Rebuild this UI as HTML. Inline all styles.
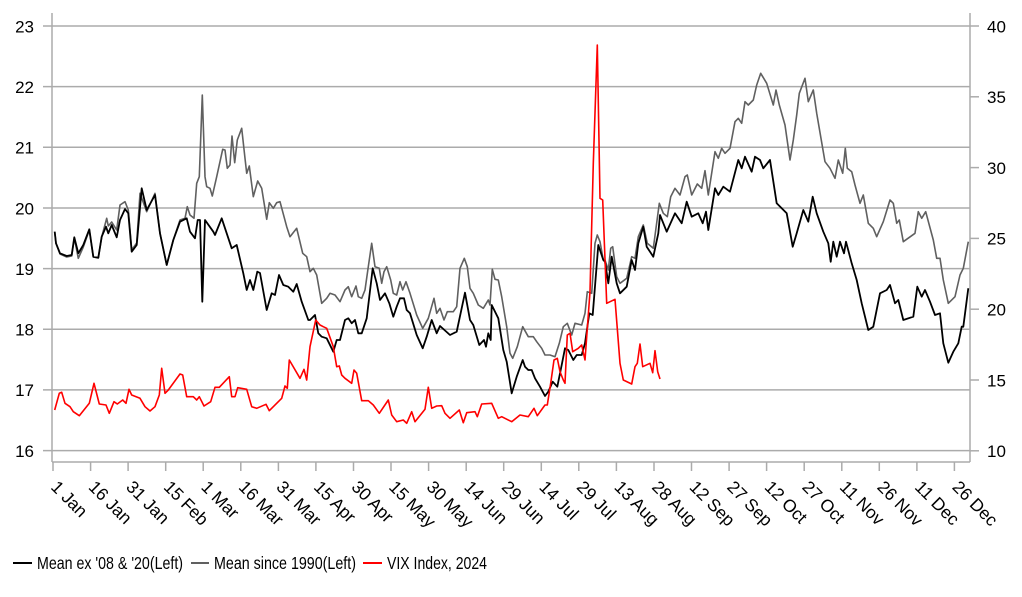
<!DOCTYPE html>
<html><head><meta charset="utf-8"><style>
html,body{margin:0;padding:0;background:#fff;}
svg{display:block;}
text{font-family:"Liberation Sans",Arial,sans-serif;fill:#000;}
</style></head><body>
<svg width="1022" height="597" viewBox="0 0 1022 597" xmlns="http://www.w3.org/2000/svg">
<g stroke="#ababab" stroke-width="1.5" fill="none">
<line x1="43" y1="26" x2="970" y2="26"/>
<line x1="43" y1="86.6" x2="970" y2="86.6"/>
<line x1="43" y1="147.3" x2="970" y2="147.3"/>
<line x1="43" y1="208" x2="970" y2="208"/>
<line x1="43" y1="268.6" x2="970" y2="268.6"/>
<line x1="43" y1="329.3" x2="970" y2="329.3"/>
<line x1="43" y1="389.9" x2="970" y2="389.9"/>
<line x1="43" y1="450.6" x2="970" y2="450.6"/>
<line x1="52" y1="13" x2="52" y2="462"/>
<line x1="970" y1="13" x2="970" y2="462"/>
<line x1="52" y1="462" x2="970" y2="462"/>
<line x1="970" y1="26" x2="979" y2="26"/>
<line x1="970" y1="96.8" x2="979" y2="96.8"/>
<line x1="970" y1="167.6" x2="979" y2="167.6"/>
<line x1="970" y1="238.4" x2="979" y2="238.4"/>
<line x1="970" y1="309.2" x2="979" y2="309.2"/>
<line x1="970" y1="380" x2="979" y2="380"/>
<line x1="970" y1="450.8" x2="979" y2="450.8"/>
<path d="M53,462v9M90.6,462v9M128.1,462v9M165.7,462v9M203.2,462v9M240.8,462v9M278.4,462v9M315.9,462v9M353.5,462v9M391,462v9M428.6,462v9M466.2,462v9M503.7,462v9M541.3,462v9M578.8,462v9M616.4,462v9M654,462v9M691.5,462v9M729.1,462v9M766.6,462v9M804.2,462v9M841.8,462v9M879.3,462v9M916.9,462v9M954.4,462v9"/>
</g>
<g font-size="17" text-anchor="end">
<text x="34" y="32.3">23</text>
<text x="34" y="92.9">22</text>
<text x="34" y="153.6">21</text>
<text x="34" y="214.3">20</text>
<text x="34" y="274.9">19</text>
<text x="34" y="335.6">18</text>
<text x="34" y="396.2">17</text>
<text x="34" y="456.9">16</text>
</g>
<g font-size="17">
<text x="987" y="32.3">40</text>
<text x="987" y="103.1">35</text>
<text x="987" y="173.9">30</text>
<text x="987" y="244.7">25</text>
<text x="987" y="315.5">20</text>
<text x="987" y="386.3">15</text>
<text x="987" y="457.1">10</text>
</g>
<g font-size="17.5">
<text transform="translate(50,488) rotate(45)">1 Jan</text>
<text transform="translate(87.6,488) rotate(45)">16 Jan</text>
<text transform="translate(125.1,488) rotate(45)">31 Jan</text>
<text transform="translate(162.7,488) rotate(45)">15 Feb</text>
<text transform="translate(200.2,488) rotate(45)">1 Mar</text>
<text transform="translate(237.8,488) rotate(45)">16 Mar</text>
<text transform="translate(275.4,488) rotate(45)">31 Mar</text>
<text transform="translate(312.9,488) rotate(45)">15 Apr</text>
<text transform="translate(350.5,488) rotate(45)">30 Apr</text>
<text transform="translate(388,488) rotate(45)">15 May</text>
<text transform="translate(425.6,488) rotate(45)">30 May</text>
<text transform="translate(463.2,488) rotate(45)">14 Jun</text>
<text transform="translate(500.7,488) rotate(45)">29 Jun</text>
<text transform="translate(538.3,488) rotate(45)">14 Jul</text>
<text transform="translate(575.8,488) rotate(45)">29 Jul</text>
<text transform="translate(613.4,488) rotate(45)">13 Aug</text>
<text transform="translate(651,488) rotate(45)">28 Aug</text>
<text transform="translate(688.5,488) rotate(45)">12 Sep</text>
<text transform="translate(726.1,488) rotate(45)">27 Sep</text>
<text transform="translate(763.6,488) rotate(45)">12 Oct</text>
<text transform="translate(801.2,488) rotate(45)">27 Oct</text>
<text transform="translate(838.8,488) rotate(45)">11 Nov</text>
<text transform="translate(876.3,488) rotate(45)">26 Nov</text>
<text transform="translate(913.9,488) rotate(45)">11 Dec</text>
<text transform="translate(951.4,488) rotate(45)">26 Dec</text>
</g>
<g fill="none" stroke-linejoin="round">
<polyline stroke="#606060" stroke-width="1.6" points="54.7,231.7 56,243.3 60,254 66.7,257 71.7,256 74.3,238 78.3,258.3 83.3,247 89.3,230 93.3,257 98.3,258 101.7,237 106.7,218.3 108.3,226 111.7,222 116.7,230 120,205 125,201.7 128.3,210 131.7,250 136.7,243 140,193.3 146.7,211.7 155,193.3 160,233.3 166.7,265 173.3,240 180,220 185,218.3 187.3,206.7 190,215 194,218.3 196.7,183.3 199.3,176.7 202.3,95 205,176.7 206.7,186.7 210,188.3 212.3,196 216.7,176.7 222.7,149.3 225,150 227.3,168.3 230,165 232,136 234.7,162.7 237.3,140 241.7,128.3 245,158.3 246.7,173.3 249.3,166 253.3,196.7 257.7,181 261.7,188.3 266.7,219.3 269.3,202.7 273.3,208.3 276.7,202.7 280,201.7 286.7,226.7 290,236.7 296.7,228.3 302.7,253.3 306.7,256.7 310,271.7 313.3,268.3 316.7,275 321.7,303.3 326.7,298.3 330,293.3 335,295 340,301.7 345,290 348.3,286.7 351.7,296.7 356,286 358.3,296.7 361.7,298.3 365,290 368.3,266.7 371.7,243.3 375,266.7 379.3,268.3 381.7,283.3 384,271.7 386.7,266.7 390.7,280 393.3,293.3 396.7,295 400,281.7 402.7,290 406,281.7 410,293.3 416.7,315 422.7,328.3 428.3,318.3 434,298.3 436.7,313.3 440,308.3 444,320 447.3,311.7 453.3,311.7 456.7,306.7 460,268.3 464.3,258.3 467.3,266.7 470,288.3 473.3,293.3 478.3,305 483.3,308.3 488.3,300 490,305 492.3,269.3 495,279.3 498.3,280 501.7,296.7 506.7,326.7 510,353.3 512.7,358.3 517.3,346.7 522.7,326.7 528.3,336.7 533.3,336.7 536.7,341.7 541.7,348.3 545,355 550,355 555,356.7 559.3,343.3 563.3,326.7 567.3,323.3 571.7,335 575,323.3 581.7,325 585,313.3 587.3,291.7 591.7,293.3 595,243.3 597.3,235 600,241.7 603.3,260 605,260 608.3,270 610.7,248.3 612.7,246.7 616.7,276.7 620,283.3 626.7,278.3 631.7,256.7 635,258.3 638.3,236.7 643.3,225 647.3,243.3 653.3,248.3 659.3,203.3 663.3,213.3 667.3,216.7 670.7,196.7 675,188.3 680,195 685,176.7 687.3,175 691.7,195 697.3,184 701.7,188.3 705,170.7 708.3,195 715,151.7 718.3,158.3 721.7,148.3 725,153.3 730,148.3 735,121.7 738.3,118.3 741.7,123.3 745,101.7 748.3,105 753.3,100 756.7,85 760.7,73.3 766.7,83.3 773.3,105 776,90 779.3,105 785,125 790,160 793.3,140 796.7,115 799.3,93.3 805,78.3 808.3,101.7 813.3,90 816.7,113.3 825,161.7 830,168.3 835,178.3 838.3,160 842.7,173.3 845.3,148.3 847.3,168.3 851.7,171.7 855,185 860,203.3 863.3,195 868.3,223.3 873.3,228.3 876.7,236.7 883.3,221.7 890,200 893.3,203.3 896.7,223.3 899.3,220 903.3,241.7 915,233.3 918.3,211.7 921.7,218.3 925.7,211.7 933.3,240 936.7,258.3 940,258.3 943.3,280 948.3,303.3 955,296.7 960,275 963.3,268.3 968.3,241.7"/>
<polyline stroke="#000" stroke-width="1.8" points="54.7,231.7 56,243.3 60,253.3 66.7,256 71.7,255 74.3,237.3 78.3,253.3 83.3,245 89.3,229.3 93.3,256.7 98.3,257.7 101.7,236.7 106,226.7 108.3,233.3 111.7,225 116.7,237.3 120,220 125,209 128.3,213.3 131.7,251.7 136.7,245 141.7,188.3 146.7,210 155,195 160,233.3 166.7,265 173.3,240 180,221.7 186.7,218.3 190,231.7 195,238.3 197.7,220 200,220 202.3,301.7 205,220 213.3,231.7 215,235 221.7,218.3 231.7,248.3 236.7,245 243.3,273.3 246.7,290 250,280 253.3,290 257.3,271.7 260,273 266.7,310 271.7,293.3 275,295 279,275 283.3,285 288.3,286.7 293.3,291.7 296.7,284 301.7,301.7 308.3,320 310,320 315,315 318.3,333.3 321.7,336.7 326.7,338.3 333.3,351.7 336.7,340 340,340 345,320 348.3,318.3 351.7,323.3 355,320 358.3,333.3 361.7,333.3 366.7,318.3 372.7,268.3 376.7,283.3 380,300 385,293.3 389.3,303.3 393.3,316.7 396.7,306.7 400,298.3 404,298.3 406.7,310 410,313.3 416.7,335 422.7,348.3 426.7,336.7 431.7,320 436.7,333.3 440,326 450,335 456.7,331.7 465,292.7 470,320 473.3,325 479.3,345 484,340 486,346.7 488.3,333.3 490.7,340 491.7,305 498.3,318.3 503.3,350 506.7,361.7 511.7,393.3 516.7,376.7 522.7,360 525,366.7 528.3,370 531.7,370 535,378.3 540,386.7 545,396 548.3,391.7 552.7,381.7 557.3,386.7 561.7,365 565,348.3 568.3,350 573.3,360 576.7,355 581.7,355 585,343.3 589.3,313.3 592.7,315 598.3,245 603.3,260 605,261.7 608.3,283.3 611.7,256.7 616.7,283.3 620,293.3 626.7,286.7 631.7,260 635,270 638.3,243.3 643.3,226.7 646.7,246.7 653.3,256.7 658.3,233.3 660,215 666.7,231.7 675,213.3 681.7,223.3 686.7,201.7 691.7,216.7 698.3,213.3 702.7,223.3 706,211.7 708.3,230 715,188.3 718.3,195 723.3,186.7 730,191.7 738.3,160 741.7,168.3 745,156.7 751.7,171.7 755,156.7 760,160 763.3,168.3 770,160 776.7,203.3 781.7,208.3 786.7,213.3 792.7,246.7 796.7,233.3 803.3,210 808.3,221.7 812.7,196.7 816.7,213.3 823.3,231.7 828.3,243.3 830.7,261.7 833.3,241.7 836.7,256.7 840,241.7 844,253.3 846,241.7 851.7,263.3 856.7,280 861.7,303.3 868.3,330 873.3,326.7 880,293.3 886.7,290 890,285 895,303.3 898.3,300 903.3,320 913.3,316.7 917.3,286.7 921.7,296.7 925,290 930,301.7 935,315 940,313.3 943.3,343.3 948.3,362.7 953.3,351.7 958.3,343.3 961.7,326.7 963.3,326.7 968.3,288.3"/>
<polyline stroke="#ff0000" stroke-width="1.6" points="54.7,410 59.3,393.3 61.7,392.3 65,403.3 70,406.7 73.3,411.7 79.3,415.7 89.3,403.3 94,383.3 99.3,404 106,405 109.3,413.3 114,401.7 117.3,404 122.7,400 126,403.3 129,389.3 131.7,395 140,398.3 145,406.7 150,411 155,406.7 159.3,395 161.7,368.3 165,393.3 168.3,390 180,374 182.7,375 186.7,396.7 193.3,396.7 196.7,400 199.3,396.7 204,406 210.7,401.7 215,387.3 219.3,387.3 229.3,376.7 231.7,396.7 235,396.7 237.7,387.7 246.7,389.3 251.7,406.7 256.7,408.3 266,404.3 269.3,410.7 281.7,398.3 285,386 287.3,388.3 289.3,360 300,378.3 304,369.3 306.7,380 310,346.7 315.7,320 320,325 323.3,326.7 326.7,328.3 333.3,346.7 336.7,366.7 339.3,366 341.7,375 345,378.3 351.7,383.3 354,370 356.7,373.3 361.7,400.7 368.3,400.7 373.3,405 379.3,413.3 388.3,400 391.7,415 396.7,421.7 403.3,420 406.7,423.3 411.7,411.7 415,421.7 425,409.3 428.3,387.3 431.7,408.3 436.7,406 441.7,405.7 445,413.3 450,418.3 459.3,410 463.3,422.7 466.7,412.7 475,411.7 477.3,416.7 481.7,404 491.7,403.3 498.3,418.3 501.7,416.7 511.7,421.7 520,415 528.3,416.7 534,408.3 537.3,415.7 545,405 547.3,405 550.7,383.3 554,360 557.3,358.3 560,371.7 563.3,380 565,383.3 567.3,335 570,333.3 572.7,351.7 578.3,348.3 581.7,345 585,360 590,291.7 593.3,163.3 597.3,45 600,198.3 602.7,200 606.7,303.3 615,299.3 620,363.3 623.3,380 631.7,384 635,366.7 637.3,363.3 640,344 642.7,366.7 650,363.3 652.7,372.7 655,350.7 657.7,371.7 660,379"/>
</g>
<line x1="13" y1="563" x2="32" y2="563" stroke="#000" stroke-width="2"/>
<line x1="191" y1="563" x2="209" y2="563" stroke="#606060" stroke-width="2"/>
<line x1="363" y1="563" x2="382" y2="563" stroke="#ff0000" stroke-width="2"/>
<g font-size="17.5">
<text x="37" y="569" textLength="146" lengthAdjust="spacingAndGlyphs">Mean ex '08 &amp; '20(Left)</text>
<text x="214" y="569" textLength="142" lengthAdjust="spacingAndGlyphs">Mean since 1990(Left)</text>
<text x="387" y="569" textLength="100" lengthAdjust="spacingAndGlyphs">VIX Index, 2024</text>
</g>
</svg>
</body></html>
